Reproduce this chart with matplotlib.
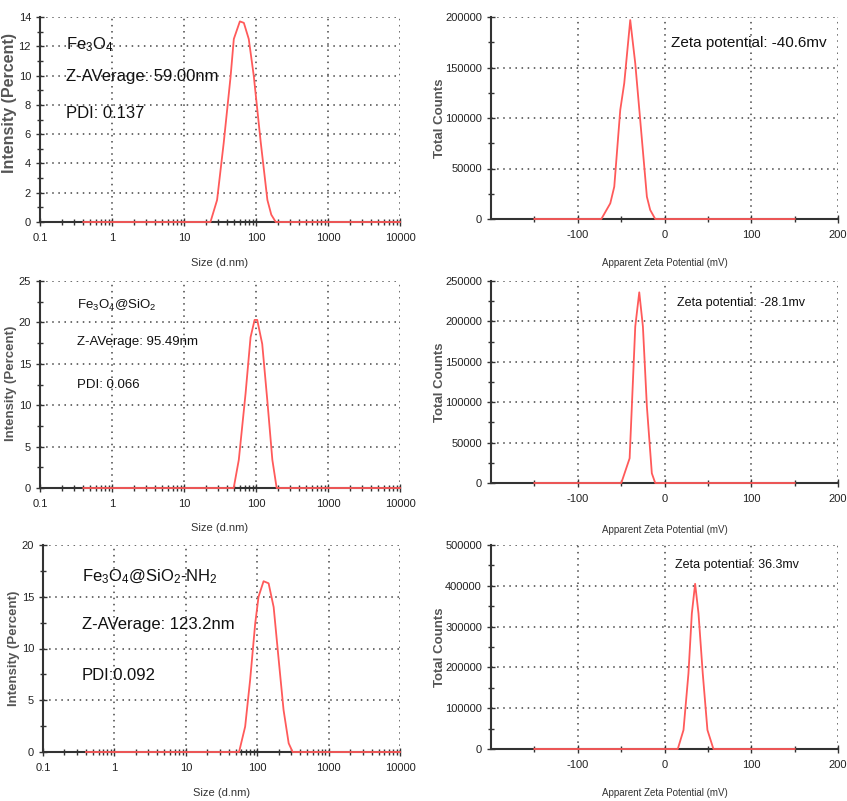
import matplotlib
matplotlib.use("Agg")
import matplotlib.pyplot as plt
from matplotlib.ticker import FixedLocator, NullFormatter

plt.rcParams["font.family"] = ["Liberation Sans", "DejaVu Sans"]
plt.rcParams["mathtext.default"] = "regular"
plt.rcParams["axes.unicode_minus"] = False

# --- size distributions (d.nm vs intensity %) ---
size_x1 = [0.4, 10, 23.3, 28.8, 35.6, 44.3, 49.2, 59.7, 67.8, 79.3, 93, 116, 144, 163, 188, 10000]
size_y1 = [0, 0, 0, 1.5, 5.4, 9.9, 12.5, 13.7, 13.6, 12.5, 10.0, 5.5, 1.5, 0.5, 0, 0]

size_x2 = [0.4, 10, 49, 57.7, 71.6, 84, 95.6, 104, 122, 143.5, 168.7, 193.6, 10000]
size_y2 = [0, 0, 0, 3.4, 11.4, 18.2, 20.3, 20.3, 17.4, 10.6, 3.4, 0, 0]

size_x3 = [0.4, 10, 55.7, 67.8, 79.7, 93.7, 104.4, 122.8, 144.4, 170, 200, 234, 276, 314, 10000]
size_y3 = [0, 0, 0, 2.45, 7.0, 12.4, 15.0, 16.5, 16.3, 14.0, 8.9, 4.06, 0.84, 0, 0]

# --- zeta potential distributions (mV vs total counts) ---
zeta_x1 = [-150, -72.8, -62.5, -57.9, -51, -46.4, -39.5, -33.7, -28, -20.3, -16.5, -10.7, 150]
zeta_y1 = [0, 0, 15500, 32000, 108000, 134500, 197000, 154000, 98000, 22000, 9000, 0, 0]

zeta_x2 = [-150, -49.8, -40.2, -33.7, -29.1, -24.9, -20.3, -14.6, -10.7, 150]
zeta_y2 = [0, 0, 30600, 193800, 236000, 193800, 94600, 12000, 0, 0]

zeta_x3 = [-150, 15.3, 21.9, 27.6, 31.5, 35.3, 39.2, 44.1, 49.5, 56.4, 150]
zeta_y3 = [0, 0, 46500, 185000, 332000, 405000, 332000, 185000, 46500, 0, 0]

size_ymax = [14, 25, 20]
size_ystep = [2, 5, 5]
zeta_ymax = [200000, 250000, 500000]
zeta_ystep = [50000, 50000, 100000]

sample_names = [r"Fe$_3$O$_4$", r"Fe$_3$O$_4$@SiO$_2$", r"Fe$_3$O$_4$@SiO$_2$-NH$_2$"]
z_average = ["Z-AVerage: 59.00nm", "Z-AVerage: 95.49nm", "Z-AVerage: 123.2nm"]
pdi_text = ["PDI: 0.137", "PDI: 0.066", "PDI:0.092"]
zeta_text = ["Zeta potential: -40.6mv", "Zeta potential: -28.1mv", "Zeta potential: 36.3mv"]

size_ticks = [0.1, 1, 10, 100, 1000, 10000]
size_ticklabels = ["0.1", "1", "10", "100", "1000", "10000"]
zeta_ticks = [-100, 0, 100, 200]

LINE = "#ff5a5a"
AX = "#333333"

W, H = 847, 801
fig = plt.figure(figsize=(W / 100, H / 100), dpi=100)


def px_axes(box):
    x0, y0, x1, y1 = box
    return fig.add_axes([x0 / W, 1 - y1 / H, (x1 - x0) / W, (y1 - y0) / H])


def style(ax):
    for s in ("top", "right"):
        ax.spines[s].set_visible(False)
    for s in ("left", "bottom"):
        ax.spines[s].set_color(AX)
        ax.spines[s].set_linewidth(1.5)
    ax.grid(True, which="major", linestyle=(0, (1, 3)), color="#444444", linewidth=1.1)
    ax.tick_params(which="major", direction="inout", length=6, width=1, colors=AX,
                   labelsize=8, labelcolor="#222222")
    ax.tick_params(axis="x", which="major", pad=5)
    ax.tick_params(which="minor", direction="inout", length=5, width=1, colors=AX)
    ax.set_axisbelow(True)


size_boxes = [(40, 17, 400, 222), (40, 281, 400, 488), (43, 545, 400, 752)]
zeta_boxes = [(491, 17, 838, 219), (491, 281, 838, 483), (491, 545, 838, 749)]
size_data = [(size_x1, size_y1), (size_x2, size_y2), (size_x3, size_y3)]
zeta_data = [(zeta_x1, zeta_y1), (zeta_x2, zeta_y2), (zeta_x3, zeta_y3)]

big = [12, 9.5, 12]
zbig = [11, 9, 9]
text_y = [(45, 77, 113), (305, 342, 385), (577, 625, 675)]
text_x = [66, 77, 82]
zeta_pos = [(671, 43), (677, 303), (675, 565)]
ylab_size = [11.5, 9.5, 9.5]
ylab_pos = [(17, 103), (17, 383), (20, 648)]
xlab_y = [258, 523, 788]
zlab_y = [258, 525, 788]

for i in range(3):
    # left: size distribution
    box = size_boxes[i]
    ax = px_axes(box)
    style(ax)
    ax.plot(size_data[i][0], size_data[i][1], color=LINE, lw=1.3, zorder=5, clip_on=False)
    ax.set_xscale("log")
    ax.set_xlim(0.1, 10000)
    ax.set_ylim(0, size_ymax[i])
    ax.set_xticks(size_ticks)
    ax.set_xticklabels(size_ticklabels)
    minors = [m * 10.0 ** e for e in range(-1, 4) for m in range(2, 10)]
    ax.xaxis.set_minor_locator(FixedLocator(minors))
    ax.xaxis.set_minor_formatter(NullFormatter())
    yt = list(range(0, size_ymax[i] + 1, size_ystep[i]))
    ax.set_yticks(yt)
    ax.yaxis.set_minor_locator(FixedLocator([v + size_ystep[i] / 2 for v in yt[:-1]]))
    ax.set_ylabel("Intensity (Percent)", fontsize=ylab_size[i], fontweight="bold",
                  color="#555555")
    lx, ly = ylab_pos[i]
    ax.yaxis.set_label_coords((lx - box[0]) / (box[2] - box[0]),
                              (box[3] - ly) / (box[3] - box[1]))
    ax.set_xlabel("Size (d.nm)", fontsize=8, color="#333333")
    ax.xaxis.set_label_coords(0.5, (box[3] - xlab_y[i]) / (box[3] - box[1]))

    for t, yy in zip((sample_names[i], z_average[i], pdi_text[i]), text_y[i]):
        fig.text(text_x[i] / W, 1 - yy / H, t, fontsize=big[i], va="center", ha="left",
                 color="#111111")

    # right: zeta potential
    zbox = zeta_boxes[i]
    az = px_axes(zbox)
    style(az)
    az.plot(zeta_data[i][0], zeta_data[i][1], color=LINE, lw=1.3, zorder=5, clip_on=False)
    az.set_xlim(-200, 200)
    az.set_ylim(0, zeta_ymax[i])
    az.set_xticks(zeta_ticks)
    az.xaxis.set_minor_locator(FixedLocator([-150, -50, 50, 150]))
    zt = list(range(0, zeta_ymax[i] + 1, zeta_ystep[i]))
    az.set_yticks(zt)
    az.yaxis.set_minor_locator(FixedLocator([v + zeta_ystep[i] / 2 for v in zt[:-1]]))
    az.set_ylabel("Total Counts", fontsize=9.5, fontweight="bold", color="#555555")
    az.yaxis.set_label_coords((446 - zbox[0]) / (zbox[2] - zbox[0]), 0.5)
    az.set_xlabel("Apparent Zeta Potential (mV)", fontsize=7, color="#333333")
    az.xaxis.set_label_coords(0.5, (zbox[3] - zlab_y[i]) / (zbox[3] - zbox[1]))
    zx, zy = zeta_pos[i]
    fig.text(zx / W, 1 - zy / H, zeta_text[i], fontsize=zbig[i], va="center", ha="left",
             color="#111111")

fig.savefig("out.png", dpi=100)
